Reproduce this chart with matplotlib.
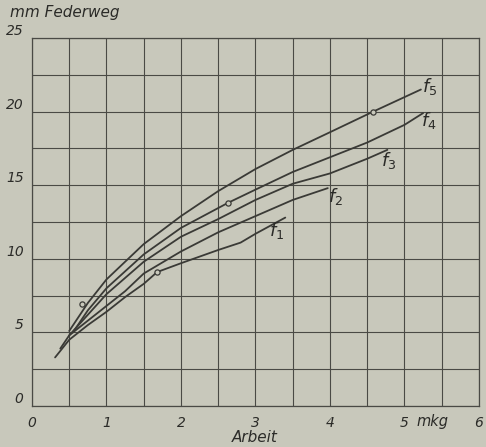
"""Federweg über Arbeit, Nachzeichnung eines alten Diagramms."""

import matplotlib

matplotlib.use("Agg")

import matplotlib.pyplot as plt  # noqa: E402
import numpy as np  # noqa: E402

# curves (x: Arbeit in mkg, y: Federweg in mm)
f1_x = [0.31, 0.5, 0.75, 1.0, 1.25, 1.5, 1.68, 2.0, 2.5, 2.8, 3.0, 3.4]
f1_y = [3.3, 4.5, 5.5, 6.4, 7.4, 8.3, 9.1, 9.7, 10.6, 11.1, 11.7, 12.8]
f2_x = [0.38, 0.5, 0.75, 1.0, 1.25, 1.5, 2.0, 2.5, 3.0, 3.5, 3.97]
f2_y = [3.9, 4.8, 5.8, 6.8, 7.8, 9.0, 10.5, 11.8, 12.9, 14.0, 14.8]
f3_x = [0.5, 0.75, 1.0, 1.5, 2.0, 2.5, 3.0, 3.5, 4.0, 4.5, 4.77]
f3_y = [4.8, 6.2, 7.6, 9.8, 11.5, 12.7, 14.0, 15.1, 15.8, 16.8, 17.4]
f4_x = [0.55, 0.75, 1.0, 1.5, 2.0, 2.63, 3.0, 3.5, 4.0, 4.5, 5.0, 5.25]
f4_y = [5.0, 6.5, 8.0, 10.3, 12.1, 13.8, 14.7, 15.9, 16.9, 17.9, 19.1, 19.9]
f5_x = [0.5, 0.75, 1.0, 1.5, 2.0, 2.5, 3.0, 3.5, 4.0, 4.58, 5.22]
f5_y = [5.1, 7.0, 8.6, 11.0, 12.9, 14.6, 16.1, 17.4, 18.6, 20.0, 21.5]

circle_x = [0.67, 1.68, 2.63, 4.58]
circle_y = [6.9, 9.1, 13.8, 20.0]

curve_names = ["$f_1$", "$f_2$", "$f_3$", "$f_4$", "$f_5$"]
label_x = [3.29, 4.08, 4.79, 5.32, 5.34]
label_y = [11.95, 14.2, 16.7, 19.4, 21.7]

x_ticks = [0, 1, 2, 3, 4, 5, 6]
y_ticks = [0, 5, 10, 15, 20, 25]

paper = "#c8c8bb"
ink = "#3a3a36"
grid_ink = "#4a4a45"
text_ink = "#2b2b28"

fig = plt.figure(figsize=(4.86, 4.47), dpi=100, facecolor=paper)
ax = fig.add_axes([0.0658, 0.0917, 0.9198, 0.8233], facecolor=paper)

ax.set_xlim(0, 6)
ax.set_ylim(0, 25)
ax.set_xticks(x_ticks)
ax.set_yticks(y_ticks)
ax.set_xticks(np.arange(0, 6.01, 0.5), minor=True)
ax.set_yticks(np.arange(0, 25.01, 2.5), minor=True)
ax.set_xticklabels([str(v) for v in x_ticks])
ax.set_yticklabels([str(v) for v in y_ticks])
ax.tick_params(which="both", length=0, colors=text_ink)
ax.tick_params(axis="x", pad=7, labelsize=10)
ax.tick_params(axis="y", pad=6, labelsize=10)
for label in ax.get_xticklabels() + ax.get_yticklabels():
    label.set_fontstyle("italic")
for label in ax.get_yticklabels():
    label.set_verticalalignment("bottom")
ax.grid(which="both", color=grid_ink, linewidth=0.8)
ax.set_axisbelow(True)
for spine in ax.spines.values():
    spine.set_color(grid_ink)
    spine.set_linewidth(0.9)

for xs, ys in ((f1_x, f1_y), (f2_x, f2_y), (f3_x, f3_y), (f4_x, f4_y), (f5_x, f5_y)):
    ax.plot(xs, ys, color=ink, linewidth=1.3, solid_capstyle="round", zorder=3)

ax.scatter(circle_x, circle_y, s=14, facecolor=paper, edgecolor=ink,
           linewidth=0.9, zorder=4)

for name, lx, ly in zip(curve_names, label_x, label_y):
    ax.text(lx, ly, name, fontsize=13, color=text_ink, ha="center",
            va="center", zorder=5)

ax.text(5.37, -0.55, "mkg", fontsize=10.5, fontstyle="italic", color=text_ink,
        ha="center", va="top", clip_on=False)
fig.text(0.525, 0.005, "Arbeit", fontsize=11, fontstyle="italic",
         color=text_ink, ha="center", va="bottom")
fig.text(0.02, 0.955, "mm Federweg", fontsize=11, fontstyle="italic",
         color=text_ink, ha="left", va="bottom")

fig.savefig("out.png", dpi=100, facecolor=paper)
